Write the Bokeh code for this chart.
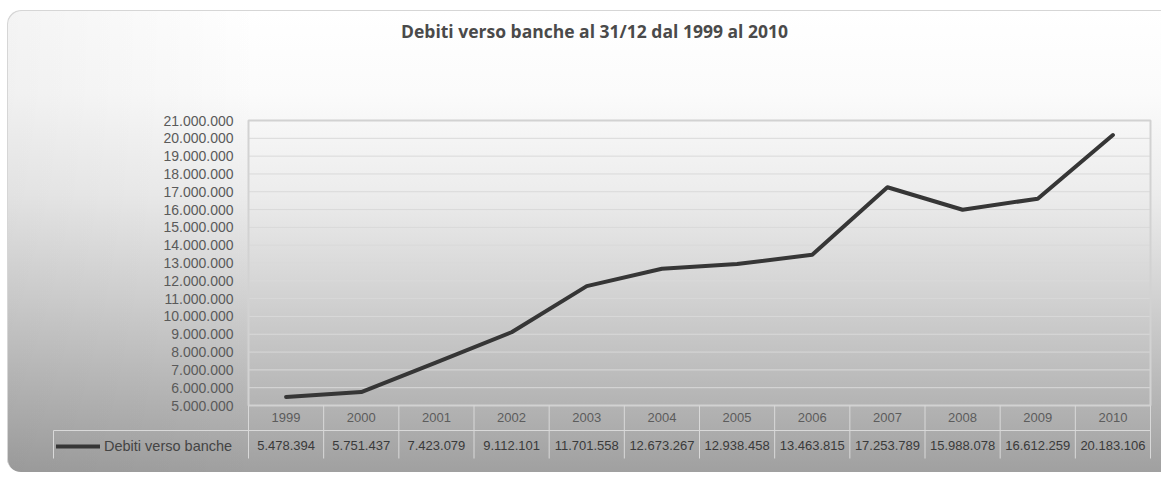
from bokeh.plotting import figure
from bokeh.models import Range1d, Label, Legend, LegendItem, ColumnDataSource
from bokeh.core.properties import value
from bokeh.embed import file_html
from bokeh.resources import INLINE

# ---- data -------------------------------------------------------------
years = ["1999", "2000", "2001", "2002", "2003", "2004",
         "2005", "2006", "2007", "2008", "2009", "2010"]
values = [5478394, 5751437, 7423079, 9112101, 11701558, 12673267,
          12938458, 13463815, 17253789, 15988078, 16612259, 20183106]
value_labels = ["5.478.394", "5.751.437", "7.423.079", "9.112.101", "11.701.558",
                "12.673.267", "12.938.458", "13.463.815", "17.253.789",
                "15.988.078", "16.612.259", "20.183.106"]
ytick_values = [5000000, 6000000, 7000000, 8000000, 9000000, 10000000, 11000000,
                12000000, 13000000, 14000000, 15000000, 16000000, 17000000,
                18000000, 19000000, 20000000, 21000000]
ytick_labels = ["5.000.000", "6.000.000", "7.000.000", "8.000.000", "9.000.000",
                "10.000.000", "11.000.000", "12.000.000", "13.000.000", "14.000.000",
                "15.000.000", "16.000.000", "17.000.000", "18.000.000", "19.000.000",
                "20.000.000", "21.000.000"]
title_text = "Debiti verso banche al 31/12 dal 1999 al 2010"
series_name = "Debiti verso banche"

# ---- layout (pixels inside the figure) ----------------------------------
W, H = 1154, 462
PL, PR, PT, PB = 241, 1143, 110, 395      # plot-area box
ROW1, ROW2, TBOT = 12, 40, 53            # table rows below the plot area
TABLE_L = 46                              # left edge of the legend cell
FONT = "Liberation Sans"
GRID = "#d9d9d9"
LINE = "#363636"

n = len(years)
xs = list(range(n))
ux = (PR - PL) / n
uy = (ytick_values[-1] - ytick_values[0]) / (PB - PT)

p = figure(width=W, height=H, output_backend="svg", toolbar_location=None,
           x_range=Range1d(-0.5 - PL / ux, n - 0.5 + (W - PR) / ux),
           y_range=Range1d(ytick_values[0] - (H - PB) * uy,
                           ytick_values[-1] + PT * uy),
           x_axis_type=None, y_axis_type=None,
           min_border=0)
p.extra_x_ranges = {"px": Range1d(0, W)}
p.extra_y_ranges = {"px": Range1d(H, 0)}
p.grid.visible = False
p.outline_line_color = None
p.border_fill_alpha = 0
p.background_fill_alpha = 0
p.styles = {
    "margin": "10px 0 0 7px",
    "background": "linear-gradient(to right, rgba(0,0,0,0.045) 0%, rgba(0,0,0,0) 22%), "
                  "linear-gradient(to bottom, #ffffff 0%, #fbfbfb 18%, #ececec 40%, "
                  "#d2d2d2 62%, #b8b8b8 82%, #a0a0a0 100%)",
    "border-radius": "14px 0 0 14px",
    "box-shadow": "inset 1px 1px 0 0 #d6d6d6",
}

# horizontal grid lines
p.segment(x0=-0.5, x1=n - 0.5, y0=ytick_values, y1=ytick_values,
          line_color=GRID, line_width=1)
# plot-area border
p.quad(left=-0.5, right=n - 0.5, bottom=ytick_values[0], top=ytick_values[-1],
       fill_alpha=0, line_color="#d2d2d2", line_width=2)

# y tick labels
ysrc = ColumnDataSource(dict(y=ytick_values, t=ytick_labels))
p.text(x=-0.5, y="y", text="t", source=ysrc, x_offset=-15,
       text_align="right", text_baseline="middle",
       text_font=value(FONT), text_font_size="14px", text_color="#5a5a5a")

# data table: separators and rule
p.segment(x0=[i - 0.5 for i in range(n + 1)], x1=[i - 0.5 for i in range(n + 1)],
          y0=PB, y1=PB + TBOT, y_range_name="px", line_color=GRID, line_width=1)
p.segment(x0=[TABLE_L, TABLE_L], x1=[PR, TABLE_L],
          y0=[PB + 25, PB + 25], y1=[PB + 25, PB + TBOT],
          x_range_name="px", y_range_name="px", line_color=GRID, line_width=1)

tsrc = ColumnDataSource(dict(x=xs, year=years, val=value_labels))
p.text(x="x", y=PB + ROW1, text="year", source=tsrc, y_range_name="px",
       text_align="center", text_baseline="middle",
       text_font=value(FONT), text_font_size="13px", text_color="#5c5c5c")
p.text(x="x", y=PB + ROW2, text="val", source=tsrc, y_range_name="px",
       text_align="center", text_baseline="middle",
       text_font=value(FONT), text_font_size="13px", text_color="#3a3a3a")

# the series
src = ColumnDataSource(dict(x=xs, y=values))
r = p.line("x", "y", source=src, line_color=LINE, line_width=4,
           line_join="round", line_cap="round")

legend = Legend(items=[LegendItem(label=series_name, renderers=[r])],
                location=(49, H - PB - TBOT - 2), border_line_color=None,
                background_fill_alpha=0, label_text_font=FONT,
                label_text_font_size="14.5px", label_text_color="#444444",
                glyph_width=44, glyph_height=28, label_height=28,
                padding=0, margin=0, label_standoff=4)
p.add_layout(legend)

# title
p.add_layout(Label(x=587, y=H - 20, x_units="screen", y_units="screen",
                   text=title_text, text_align="center", text_baseline="middle",
                   text_font="Open Sans", text_font_style="bold",
                   text_font_size="17.5px", text_color="#4a4a4a"))

open("out.html", "w").write(file_html(p, INLINE))
